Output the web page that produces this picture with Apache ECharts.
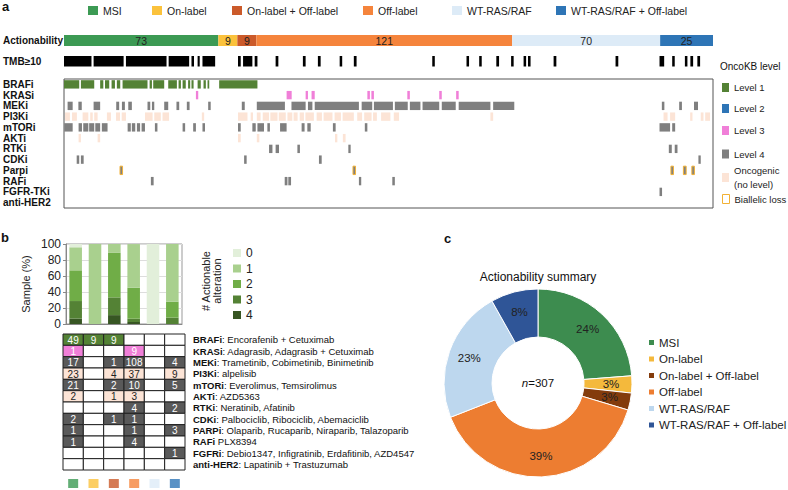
<!DOCTYPE html>
<html><head><meta charset="utf-8">
<script src="https://cdn.jsdelivr.net/npm/echarts@6/dist/echarts.min.js"></script>
<style>html,body{margin:0;padding:0;background:#fff}#c{width:788px;height:490px}</style>
</head><body><div id="c"></div><script>
const FONT = 'Liberation Sans, Arial, sans-serif';

// ---------------- Panel a ----------------
const actCategories = ['MSI', 'On-label', 'On-label + Off-label', 'Off-label', 'WT-RAS/RAF', 'WT-RAS/RAF + Off-label'];
const actCounts = [73, 9, 9, 121, 70, 25];
const sampleCount = 307;
const actLabel = ['Actionability'];
const tmbLabel = ['TMB≥10'];
// runs of samples (sample index start, end) with TMB >= 10
const tmbHighRuns = [[0,13],[14,28.2],[29.3,48.5],[49.5,59.2],[60.3,61.5],[63.2,64.2],[65.5,71.5],[82.3,83.6],[84.7,89.1],[90.2,91.5],[100.1,101.4],[113,114.3],[120.1,121.4],[130.4,131.6],[137.1,138.4],[174.2,175.4],[190.4,191.6],[196.4,197.6],[204.5,205.8],[211.5,212.7],[217.4,218.6],[219.5,220.7],[231.6,232.9],[260.9,262.2],[281.7,283.9],[287.7,288.9],[293.7,294.9],[296.3,297.6],[299.6,300.9]];

const oncoRows = ['BRAFi', 'KRASi', 'MEKi', 'PI3Ki', 'mTORi', 'AKTi', 'RTKi', 'CDKi', 'Parpi', 'RAFi', 'FGFR-TKi', 'anti-HER2'];
const brafiRuns = [[0,7.2],[8,14.3],[17.1,18.6],[19.4,21.4],[22.5,24.1],[25,26.6],[27.7,39.5],[40.5,41.6],[42.2,47.4],[49.3,53.4],[54.2,55.3],[56.1,57.6],[58.7,59.7],[60.3,61.3],[63.2,64.7],[66,67.1],[67.9,68.7],[73.4,91.5]];
const krasiRuns = [[62.4,63.5],[105.3,107.7],[114.3,115.4],[117.1,118.6],[143.5,144.7],[145.4,146.6],[162.4,163.6],[177.5,178.7],[185.5,186.7]];
const mekiRuns = [[1.7,4.1],[6.8,8.4],[14,17.1],[24.7,26.1],[27.4,28.8],[30.4,32.1],[39.5,40.8],[41.6,42.7],[47.4,49.3],[53.2,54.5],[58.1,59.4],[68.2,69.4],[84.1,85.5],[91.2,104.5],[107.6,114.3],[115.4,117.5],[118.6,139.5],[140.8,145.8],[146.6,155.6],[156.5,162.6],[163.6,168.6],[169.6,177.5],[178.7,185.3],[186.7,201.7],[203,213],[282.8,284],[291,292.3],[298,299.9]];
const pi3kiRuns = [[0.5,2.8],[3.8,6.1],[8.8,11.5],[12.4,13.6],[14.3,15.9],[20.3,22.2],[24.6,26.5],[27.3,29.3],[38.3,41.9],[42.7,45.8],[46.6,49.7],[65.2,66.3],[82.3,86.8],[88.3,89.4],[91.2,93],[94,97],[97.6,101],[101.6,104.9],[105.7,108],[108.6,110.5],[111.5,113.5],[114.2,118.2],[119.5,122],[122.8,127],[128,131],[131.8,137.1],[138.7,141],[142,145.5],[146.2,148],[150,154.4],[156,158.5],[201.7,203],[283.6,285.5],[286.7,289.1],[296.2,297.3],[301.2,302.5],[303.3,305.6]];
const mtoriRuns = [[0.1,4.1],[6.9,8.5],[9.1,11.5],[11.9,14.3],[14.8,17.1],[17.9,20.6],[30.1,31.6],[32.1,33.7],[34.5,36],[36.7,38.3],[43,44.2],[56.1,57.3],[61.1,62.4],[65.5,66.7],[82.3,83.6],[89.1,90.7],[91.5,94.6],[96.2,97.4],[102.2,105.3],[112.4,113.8],[115.1,116.7],[127.2,128.5],[142.3,143.5],[281.7,286.7],[287.7,289.1]];
const aktiRuns = [[6.9,8],[15.9,17.1],[82.3,83.6],[91.2,92.4],[128.2,129.3],[131.9,133.2]];
const rtkiRuns = [[97,98.6],[100.1,101.7],[110.4,111.6],[134.5,135.6],[286.1,287.5],[288.9,290.2]];
const cdkiRuns = [[6,7.2],[8,9.3],[85.2,86.4],[120.6,121.9],[300.1,301.2]];
const parpiRuns = [[26.5,27.7],[136.7,137.9],[287.1,288.3],[293,294.3],[297,298.2]];
const rafiRuns = [[41.1,42.4],[104.4,105.7],[106.1,107.4],[139.5,140.6],[155.3,156.5]];
const fgfrRuns = [[281.7,282.9]];
const antiHer2Runs = [];

const oncoLevels = ['Level 1', 'Level 2', 'Level 3', 'Level 4', 'Oncogenic (no level)', 'Biallelic loss'];

// ---------------- Panel b ----------------
const altCountLabels = ['0', '1', '2', '3', '4'];
const pctAlt0 = [4.1, 0, 0, 0, 100, 0];
const pctAlt1 = [28.8, 100, 11.1, 54.5, 0, 72];
const pctAlt2 = [38.4, 0, 55.6, 38.8, 0, 20];
const pctAlt3 = [21.9, 0, 22.2, 4.1, 0, 8];
const pctAlt4 = [6.8, 0, 11.1, 2.5, 0, 0];
const yTicks = [0, 20, 40, 60, 80, 100];

const tableRows = ['BRAFi', 'KRASi', 'MEKi', 'PI3Ki', 'mTORi', 'AKTi', 'RTKi', 'CDKi', 'PARPi', 'RAFi', 'FGFRi', 'anti-HER2'];
const tableRowLevel = ['Level 1', 'Level 3', 'Level 4', 'Oncogenic (no level)', 'Level 4', 'Oncogenic (no level)', 'Level 4', 'Level 4', 'Level 4', 'Level 4', 'Level 4', 'Level 4'];
const tableCounts = [
  [49, 9, 9, null, null, null],
  [1, null, null, 9, null, null],
  [17, null, 1, 108, null, 4],
  [23, null, 4, 37, null, 9],
  [21, null, 2, 10, null, 5],
  [2, null, 1, 3, null, null],
  [null, null, null, 4, null, 2],
  [2, null, 1, 1, null, null],
  [1, null, null, 1, null, 3],
  [1, null, null, 4, null, null],
  [null, null, null, null, null, 1],
  [null, null, null, null, null, null]
];
const drugSeparators = [': ', ': ', ': ', ': ', ': ', ': ', ': ', ': ', ': ', ' ', ': ', ': '];
const drugNames = ['Encorafenib + Cetuximab', 'Adagrasib, Adagrasib + Cetuximab', 'Trametinib, Cobimetinib, Binimetinib', 'alpelisib', 'Everolimus, Temsirolimus', 'AZD5363', 'Neratinib, Afatinib', 'Palbociclib, Ribociclib, Abemaciclib', 'Olaparib, Rucaparib, Niraparib, Talazoparib', 'PLX8394', 'Debio1347, Infigratinib, Erdafitinib, AZD4547', 'Lapatinib + Trastuzumab'];

// ---------------- Panel c ----------------
const pieTitle = 'Actionability summary';
const pieCounts = actCounts;

// ---------------- styles ----------------
const actColors = ['#3c9a54', '#fbc23c', '#cb5a2a', '#f5843c', '#ddebf7', '#2e75b6'];
const pieColors = ['#3d8c4f', '#f4b93c', '#843c0c', '#ed7d31', '#bdd7ee', '#2f5597'];
const levelColor = {'Level 1': '#548235', 'Level 2': '#2e75b6', 'Level 3': '#f07fd8', 'Level 4': '#7f7f7f', 'Oncogenic (no level)': '#fce4d6', 'Biallelic loss': '#808080'};
const cellFill = {'Level 1': '#548235', 'Level 3': '#f07fd8', 'Level 4': '#595959', 'Oncogenic (no level)': '#fce4d6'};
const cellText = {'Level 1': '#fff', 'Level 3': '#fff', 'Level 4': '#fff', 'Oncogenic (no level)': '#222'};
const altColors = ['#e2efda', '#a9d08e', '#70ad47', '#548235', '#375623'];

const oncoAssign = [
  ['Level 1', 0, brafiRuns], ['Level 3', 1, krasiRuns], ['Level 4', 2, mekiRuns],
  ['Oncogenic (no level)', 3, pi3kiRuns], ['Level 4', 4, mtoriRuns], ['Oncogenic (no level)', 5, aktiRuns],
  ['Level 4', 6, rtkiRuns], ['Level 4', 7, cdkiRuns], ['Biallelic loss', 8, parpiRuns],
  ['Level 4', 9, rafiRuns], ['Level 4', 10, fgfrRuns], ['Level 4', 11, antiHer2Runs]
];

function runRect(frac) {
  return function (params, api) {
    const r = api.value(2);
    const a = api.coord([api.value(0), r]);
    const b = api.coord([api.value(1), r]);
    const h = api.size([0, 1])[1] * frac;
    return {type: 'rect', shape: {x: a[0], y: a[1] - h / 2, width: Math.max(b[0] - a[0], 1), height: h}, style: api.style()};
  };
}

const chart = echarts.init(document.getElementById('c'), null, {renderer: 'svg'});

const hiddenValX = (i) => ({type: 'value', gridIndex: i, min: 0, max: sampleCount, show: false});

const series = [];
actCategories.forEach((n, i) => series.push({
  name: n, type: 'bar', xAxisIndex: 0, yAxisIndex: 0, stack: 'act', barWidth: '100%', silent: true,
  data: [actCounts[i]], itemStyle: {color: actColors[i]},
  label: {show: true, position: 'inside', formatter: '{c}', fontSize: 10.5, color: '#222', fontFamily: FONT}
}));
series.push({
  type: 'custom', xAxisIndex: 1, yAxisIndex: 1, silent: true, renderItem: runRect(1),
  itemStyle: {color: '#000'}, encode: {x: [0, 1], y: 2},
  data: tmbHighRuns.map(r => [r[0], r[1], 0])
});
oncoLevels.forEach(lv => {
  const data = [];
  oncoAssign.filter(a => a[0] === lv).forEach(a => a[2].forEach(r => data.push([r[0], r[1], a[1]])));
  const st = {color: levelColor[lv]};
  if (lv === 'Biallelic loss') { st.borderColor = '#f2b134'; st.borderWidth = 1; }
  series.push({name: lv, type: 'custom', xAxisIndex: 2, yAxisIndex: 2, silent: true, renderItem: runRect(0.78), itemStyle: st, encode: {x: [0, 1], y: 2}, data});
});

const pctSeries = [pctAlt4, pctAlt3, pctAlt2, pctAlt1, pctAlt0];
['4', '3', '2', '1', '0'].forEach((n, k) => series.push({
  name: n, type: 'bar', xAxisIndex: 3, yAxisIndex: 3, stack: 'alt', barWidth: '65%', silent: true,
  data: pctSeries[k], itemStyle: {color: altColors[altCountLabels.indexOf(n)]}
}));

const cellInfo = [];
tableCounts.forEach((row, r) => row.forEach((v, c) => cellInfo.push({c, r, v, lv: tableRowLevel[r]})));
series.push({
  type: 'custom', xAxisIndex: 4, yAxisIndex: 4, silent: true, encode: {x: 0, y: 1},
  data: cellInfo.map(d => [d.c, d.r]),
  renderItem: function (params, api) {
    const d = cellInfo[params.dataIndex];
    const p = api.coord([d.c, d.r]);
    const s = api.size([1, 1]);
    const has = d.v !== null;
    return {type: 'group', children: [
      {type: 'rect', shape: {x: p[0] - s[0] / 2, y: p[1] - s[1] / 2, width: s[0], height: s[1]},
       style: {fill: has ? cellFill[d.lv] : '#fff', stroke: '#222', lineWidth: 1}},
      {type: 'text', style: {text: has ? String(d.v) : '', x: p[0], y: p[1] + 0.5, align: 'center', verticalAlign: 'middle',
       fill: cellText[d.lv], fontSize: 10, fontFamily: FONT}}
    ]};
  }
});
series.push({
  type: 'scatter', xAxisIndex: 5, yAxisIndex: 5, silent: true, symbol: 'rect', symbolSize: [10, 9],
  data: actCategories.map((c, i) => ({value: [c, 0], itemStyle: {color: actColors[i]}}))
});
series.push({
  type: 'pie', name: 'summary', center: [538, 383], radius: [46, 94], startAngle: 90, silent: true,
  avoidLabelOverlap: false, itemStyle: {borderColor: '#fff', borderWidth: 1},
  label: {show: true, position: 'inside', formatter: p => Math.round(p.percent) + '%', fontSize: 11.5, color: '#222', fontFamily: FONT},
  labelLine: {show: false},
  data: actCategories.map((n, i) => ({name: n, value: pieCounts[i], itemStyle: {color: pieColors[i]}}))
});

const legends = [];
const topLegendX = [88, 152, 232, 363, 452, 556];
actCategories.forEach((n, i) => legends.push({
  data: [n], left: topLegendX[i], top: 5, padding: 0, icon: 'rect', itemWidth: 10, itemHeight: 9, selectedMode: false,
  textStyle: {fontSize: 10.5, color: '#222', fontFamily: FONT}
}));
const oncoLegendTop = [80.5, 101.5, 123.5, 147, 163.5, 192];
oncoLevels.forEach((n, i) => {
  const item = {name: n};
  if (n === 'Biallelic loss') item.itemStyle = {color: '#fff', borderColor: '#f2b134', borderWidth: 1};
  legends.push({
    data: [item], left: 722, top: oncoLegendTop[i], padding: 0, icon: 'rect', itemWidth: 7, itemHeight: 9, selectedMode: false,
    formatter: n === 'Oncogenic (no level)' ? 'Oncogenic\n(no level)' : '{name}',
    textStyle: {fontSize: 9.5, color: '#222', fontFamily: FONT, lineHeight: 14}
  });
});
legends.push({
  data: altCountLabels, orient: 'vertical', left: 233, top: 247, padding: 0, icon: 'rect', itemWidth: 8, itemHeight: 8,
  itemGap: 3.5, selectedMode: false, textStyle: {fontSize: 12, color: '#222', fontFamily: FONT}
});
legends.push({
  data: actCategories.map((n, i) => ({name: n, itemStyle: {color: pieColors[i]}})), orient: 'vertical', left: 649, top: 336.5,
  padding: 0, icon: 'rect', itemWidth: 5, itemHeight: 5, itemGap: 4.5, selectedMode: false,
  textStyle: {fontSize: 11.5, color: '#222', fontFamily: FONT}
});

const txt = (x, y, text, extra) => Object.assign({type: 'text', x, y, silent: true, style: Object.assign({text, fill: '#111', font: '13px ' + FONT}, extra || {})});

chart.setOption({
  animation: false,
  textStyle: {fontFamily: FONT},
  grid: [
    {left: 63, top: 35, width: 650, height: 11},
    {left: 63, top: 56, width: 650, height: 10.5},
    {left: 63, top: 79, width: 650, height: 129, show: true, borderColor: '#555', borderWidth: 1},
    {left: 66, top: 244, width: 116, height: 80, show: true, borderColor: '#999', borderWidth: 1},
    {left: 63, top: 334, width: 122, height: 136},
    {left: 63, top: 479, width: 122, height: 9}
  ],
  xAxis: [
    hiddenValX(0), hiddenValX(1), hiddenValX(2),
    {type: 'category', gridIndex: 3, data: actCategories, axisLabel: {show: false}, axisTick: {show: false}, axisLine: {lineStyle: {color: '#888'}}},
    {type: 'category', gridIndex: 4, data: actCategories, show: false},
    {type: 'category', gridIndex: 5, data: actCategories, show: false}
  ],
  yAxis: [
    {type: 'category', gridIndex: 0, data: actLabel, axisLine: {show: false}, axisTick: {show: false},
     axisLabel: {align: 'left', margin: 61, fontWeight: 'bold', fontSize: 10, color: '#111'}},
    {type: 'category', gridIndex: 1, data: tmbLabel, axisLine: {show: false}, axisTick: {show: false},
     axisLabel: {align: 'left', margin: 61, fontWeight: 'bold', fontSize: 10, color: '#111'}},
    {type: 'category', gridIndex: 2, data: oncoRows, inverse: true, axisLine: {show: false}, axisTick: {show: false},
     axisLabel: {interval: 0, align: 'left', margin: 61, fontWeight: 'bold', fontSize: 10, color: '#111'}},
    {type: 'value', gridIndex: 3, min: yTicks[0], max: yTicks[yTicks.length - 1], interval: 20,
     name: 'Sample (%)', nameLocation: 'middle', nameGap: 35, nameTextStyle: {fontSize: 11, color: '#222'},
     axisLine: {show: true, lineStyle: {color: '#888'}}, axisTick: {show: true, length: 3, lineStyle: {color: '#888'}},
     axisLabel: {fontSize: 12, color: '#222', margin: 5}, splitLine: {lineStyle: {color: '#ddd'}}},
    {type: 'category', gridIndex: 4, data: tableRows, inverse: true, position: 'right', axisLine: {show: false}, axisTick: {show: false},
     axisLabel: {interval: 0, align: 'left', margin: 8, fontSize: 9.5, color: '#111',
       formatter: (v, i) => '{b|' + v + '}{r|' + drugSeparators[i] + drugNames[i] + '}',
       rich: {b: {fontWeight: 'bold', fontSize: 9.5, color: '#111'}, r: {fontSize: 9.5, color: '#111'}}}},
    {type: 'value', gridIndex: 5, min: -1, max: 1, show: false}
  ],
  legend: legends,
  series,
  graphic: [
    txt(2, 0, 'a', {font: 'bold 13px ' + FONT}),
    txt(1, 231, 'b', {font: 'bold 13px ' + FONT}),
    txt(444, 232, 'c', {font: 'bold 13px ' + FONT}),
    txt(720, 61, 'OncoKB level', {font: '10px ' + FONT}),
    {type: 'text', x: 211, y: 281, rotation: Math.PI / 2, silent: true,
     style: {text: '# Actionable\nalteration', fill: '#222', font: '11px ' + FONT, lineHeight: 11, align: 'center', verticalAlign: 'middle', textAlign: 'center', textVerticalAlign: 'middle'}},
    {type: 'text', x: 538, y: 277, silent: true,
     style: {text: pieTitle, fill: '#111', font: '12px ' + FONT, align: 'center', verticalAlign: 'middle', textAlign: 'center', textVerticalAlign: 'middle'}},
    {type: 'text', x: 538, y: 383, silent: true,
     style: {text: '{i|n}=' + sampleCount, fill: '#111', font: '11.5px ' + FONT, align: 'center', verticalAlign: 'middle', textAlign: 'center', textVerticalAlign: 'middle',
       rich: {i: {fontStyle: 'italic', fontSize: 11.5, fill: '#111'}}}}
  ]
});
</script></body></html>
